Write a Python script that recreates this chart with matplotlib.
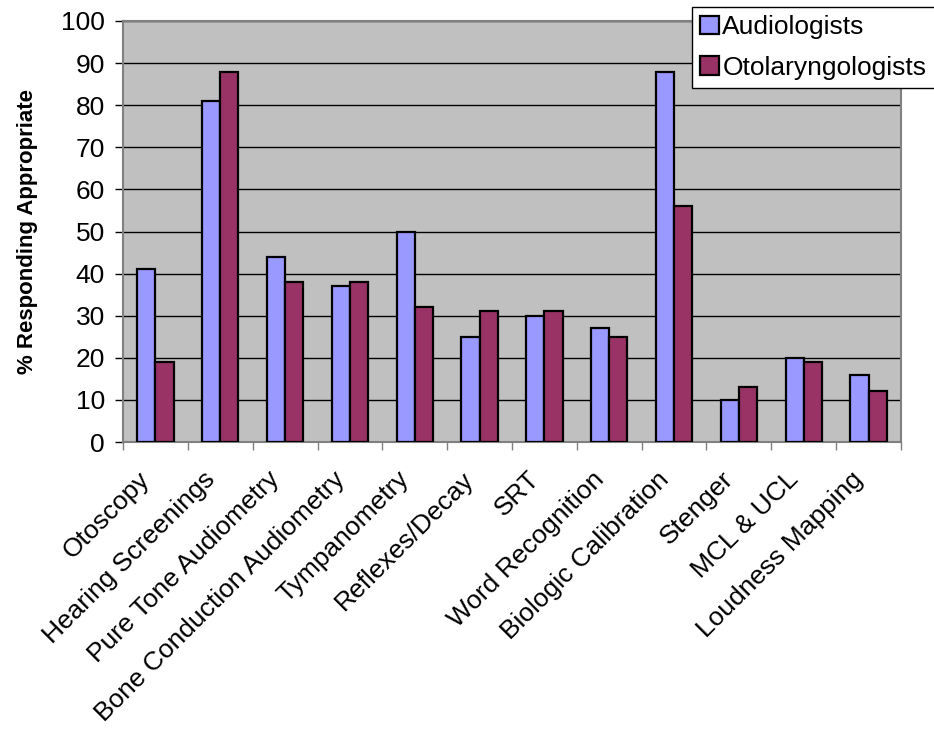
import numpy as np
import matplotlib
matplotlib.use("Agg")
import matplotlib.pyplot as plt
import matplotlib.transforms as mtransforms

categories = ["Otoscopy", "Hearing Screenings", "Pure Tone Audiometry",
              "Bone Conduction Audiometry", "Tympanometry", "Reflexes/Decay",
              "SRT", "Word Recognition", "Biologic Calibration", "Stenger",
              "MCL & UCL", "Loudness Mapping"]
audiologists = [41, 81, 44, 37, 50, 25, 30, 27, 88, 10, 20, 16]
otolaryngologists = [19, 88, 38, 38, 32, 31, 31, 25, 56, 13, 19, 12]

plt.rcParams['font.family'] = ['Liberation Sans', 'DejaVu Sans']

fig = plt.figure(figsize=(9.34, 7.34), dpi=100)
ax = fig.add_axes([123 / 934, 1 - 442 / 734, (901 - 123) / 934, (442 - 21) / 734])
ax.set_facecolor("#C0C0C0")

x = np.arange(len(categories))
w = 0.28
ax.bar(x - w / 2, audiologists, w, color="#9999FF", edgecolor="black",
       linewidth=1.6, label="Audiologists", zorder=3)
ax.bar(x + w / 2, otolaryngologists, w, color="#993366", edgecolor="black",
       linewidth=1.6, label="Otolaryngologists", zorder=3)

ax.set_xlim(-0.5, len(categories) - 0.5)
ax.set_ylim(0, 100)
ax.set_yticks(range(0, 101, 10))
ax.yaxis.grid(True, color="black", linewidth=1, zorder=1)
ax.set_axisbelow(True)

ax.set_xticks(x)
ax.set_xticklabels(categories, rotation=45, ha="right", va="center",
                   rotation_mode="anchor", fontsize=19)
ax.tick_params(axis="x", length=0, pad=24)
shift = mtransforms.ScaledTranslation(-9 / 100, 0, fig.dpi_scale_trans)
for lab in ax.get_xticklabels():
    lab.set_transform(lab.get_transform() + shift)
ax.set_xticks(np.arange(-0.5, len(categories), 1), minor=True)
ax.tick_params(axis="x", which="minor", length=6, color="#808080", width=1)
ax.tick_params(axis="y", labelsize=19, length=6, width=1, color="black", pad=7)

for s in ["top", "right", "left", "bottom"]:
    ax.spines[s].set_color("#808080")
    ax.spines[s].set_linewidth(1.5)

ax.set_ylabel("% Responding Appropriate", fontsize=16, fontweight="bold")
ax.yaxis.set_label_coords(-85 / 778, 0.5)

leg = fig.legend(loc="upper left", bbox_to_anchor=(692 / 934, 1 - 87 / 734, 260 / 934, 80 / 734),
                 mode="expand", fontsize=19, frameon=True, fancybox=False,
                 borderpad=0.31, handlelength=0.72, handleheight=0.72,
                 handletextpad=0.12, labelspacing=0.62, borderaxespad=0)
leg.get_frame().set_edgecolor("black")
leg.get_frame().set_linewidth(1)
leg.get_frame().set_alpha(1)
for h in leg.legend_handles:
    h.set_linewidth(1.6)

fig.savefig("out.png", dpi=100)
